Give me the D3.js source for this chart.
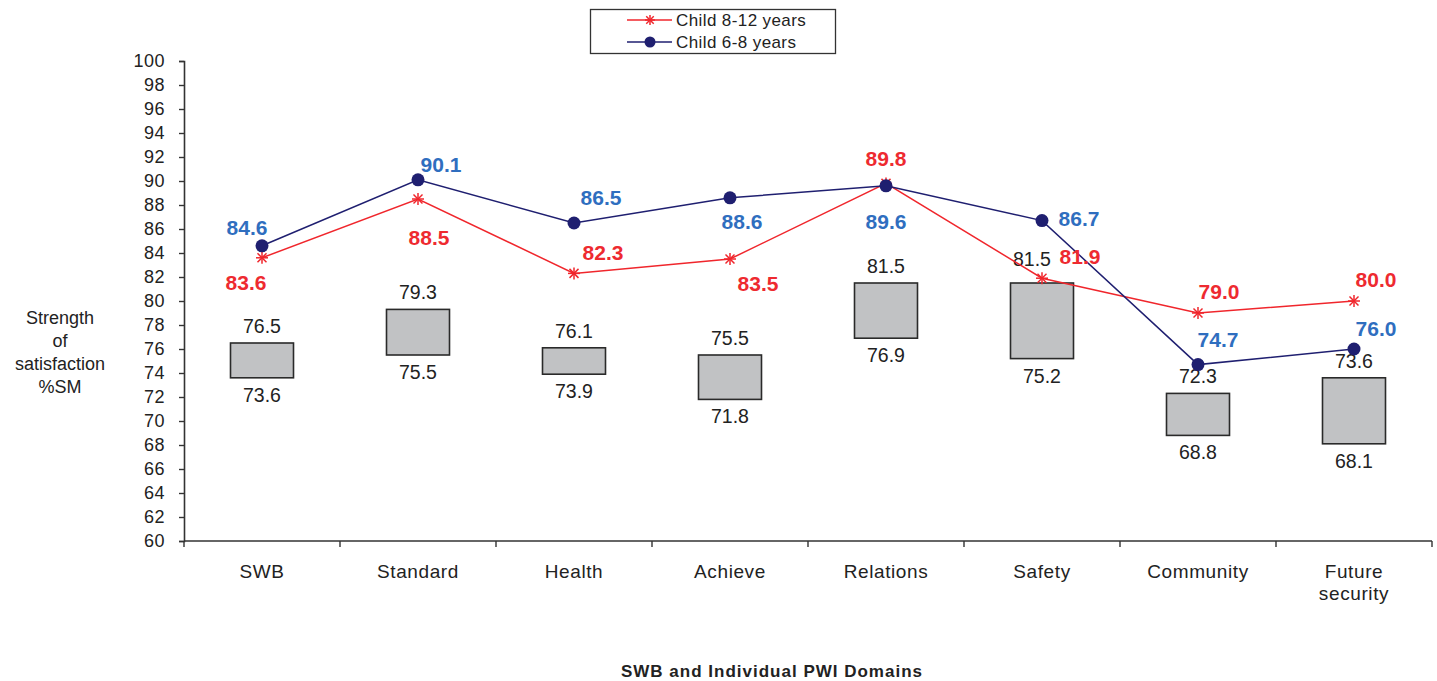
<!DOCTYPE html>
<html>
<head>
<meta charset="utf-8">
<script src="https://cdn.jsdelivr.net/npm/d3@7"></script>
<style>
  html, body { margin: 0; padding: 0; background: #fff; }
  svg { display: block; font-family: "Liberation Sans", Arial, sans-serif; }
</style>
</head>
<body>
<svg id="chart" width="1437" height="681"></svg>
<script>
// Domains along the x axis (multi-line names split with "\n")
const domains = ["SWB", "Standard", "Health", "Achieve", "Relations", "Safety", "Community", "Future\nsecurity"];

// Series values
const child8to12 = [83.6, 88.5, 82.3, 83.5, 89.8, 81.9, 79.0, 80.0];
const child6to8  = [84.6, 90.1, 86.5, 88.6, 89.6, 86.7, 74.7, 76.0];

// Normative range (lower / upper bound) per domain
const rangeLow  = [73.6, 75.5, 73.9, 71.8, 76.9, 75.2, 68.8, 68.1];
const rangeHigh = [76.5, 79.3, 76.1, 75.5, 81.5, 81.5, 72.3, 73.6];

const yTicks = d3.range(60, 101, 2);

// Value-label placement (offset of label centre from its point, px)
const place8to12 = [[-16, 25], [11, 38], [29, -21], [28, 24], [0, -25], [38, -22], [21, -22], [22, -22]];
const place6to8  = [[-15, -18], [23, -15], [27, -26], [12, 24], [0, 36], [37, -2], [20, -25], [22, -21]];
const rangeHighShift = [[0, 0], [0, 0], [0, 0], [0, 0], [0, 0], [-10, -7], [0, 0], [0, 0]];

const svg = d3.select("#chart");

const x = d3.scaleBand().domain(domains).range([184, 1432]).paddingInner(0).paddingOuter(0);
const y = d3.scaleLinear().domain([60, 100]).range([541, 61]);
const cx = d => x(d) + x.bandwidth() / 2;

const red = "#f0262c", redLabel = "#ee2a30";
const navy = "#1f1f70", blueLabel = "#2f6ebf";
const ink = "#222";

// Y axis
const yAxis = svg.append("g")
  .attr("transform", "translate(184,0)")
  .call(d3.axisLeft(y).tickValues(yTicks).tickSize(5).tickPadding(14).tickFormat(d3.format("d")));
yAxis.select(".domain").attr("stroke", "#333").attr("stroke-width", 1.6);
yAxis.selectAll(".tick line").attr("stroke", "#333").attr("stroke-width", 1.4);
yAxis.selectAll(".tick text").attr("font-size", 18).attr("fill", ink).attr("letter-spacing", 0.5)
  .attr("font-family", "Liberation Sans, Arial, sans-serif");

// X axis: ticks at band boundaries
const xg = svg.append("g").attr("transform", "translate(0,541)");
xg.append("line").attr("x1", 184).attr("x2", 1432).attr("y1", 0).attr("y2", 0)
  .attr("stroke", "#333").attr("stroke-width", 1.6);
const bounds = domains.map(d => x(d)).concat([x(domains[domains.length - 1]) + x.bandwidth()]);
xg.selectAll("line.tk").data(bounds).join("line").attr("class", "tk")
  .attr("x1", d => d).attr("x2", d => d).attr("y1", 0).attr("y2", 6)
  .attr("stroke", "#333").attr("stroke-width", 1.4);
const xl = xg.selectAll("text.cat").data(domains).join("text").attr("class", "cat")
  .attr("x", d => cx(d)).attr("y", 37)
  .attr("text-anchor", "middle").attr("font-size", 19).attr("letter-spacing", 0.6).attr("fill", ink);
xl.each(function(d) {
  const parts = d.split("\n");
  d3.select(this).selectAll("tspan").data(parts).join("tspan")
    .attr("x", cx(d)).attr("dy", (p, i) => i === 0 ? 0 : 22).text(p => p);
});

// Range boxes
const boxW = 63;
svg.append("g").selectAll("rect").data(domains).join("rect")
  .attr("x", d => cx(d) - boxW / 2)
  .attr("y", (d, i) => y(rangeHigh[i]))
  .attr("width", boxW)
  .attr("height", (d, i) => y(rangeLow[i]) - y(rangeHigh[i]))
  .attr("fill", "#c1c2c4").attr("stroke", "#2a2a2a").attr("stroke-width", 1.6);

const boxLab = svg.append("g").attr("font-size", 19.5).attr("fill", ink).attr("text-anchor", "middle");
boxLab.selectAll("text.hi").data(domains).join("text").attr("class", "hi")
  .attr("x", (d, i) => cx(d) + rangeHighShift[i][0])
  .attr("y", (d, i) => y(rangeHigh[i]) - 17 + rangeHighShift[i][1])
  .attr("dominant-baseline", "central")
  .text((d, i) => rangeHigh[i].toFixed(1));
boxLab.selectAll("text.lo").data(domains).join("text").attr("class", "lo")
  .attr("x", d => cx(d))
  .attr("y", (d, i) => y(rangeLow[i]) + 17)
  .attr("dominant-baseline", "central")
  .text((d, i) => rangeLow[i].toFixed(1));

// Lines
const line = d3.line().x((v, i) => cx(domains[i])).y(v => y(v));
svg.append("path").datum(child8to12).attr("d", line)
  .attr("fill", "none").attr("stroke", red).attr("stroke-width", 1.5);
svg.append("path").datum(child6to8).attr("d", line)
  .attr("fill", "none").attr("stroke", navy).attr("stroke-width", 1.5);

// Asterisk marker
function asterisk(g, px, py, r, color) {
  const a = g.append("g").attr("transform", `translate(${px},${py})`)
    .attr("stroke", color).attr("stroke-width", 1.5);
  a.append("line").attr("x1", -r).attr("x2", r).attr("y1", 0).attr("y2", 0);
  a.append("line").attr("x1", 0).attr("x2", 0).attr("y1", -r).attr("y2", r);
  a.append("line").attr("x1", -r * 0.75).attr("x2", r * 0.75).attr("y1", -r * 0.75).attr("y2", r * 0.75);
  a.append("line").attr("x1", -r * 0.75).attr("x2", r * 0.75).attr("y1", r * 0.75).attr("y2", -r * 0.75);
}
const mk = svg.append("g");
child8to12.forEach((v, i) => asterisk(mk, cx(domains[i]), y(v), 6, red));
svg.append("g").selectAll("circle").data(child6to8).join("circle")
  .attr("cx", (v, i) => cx(domains[i])).attr("cy", v => y(v)).attr("r", 6.5)
  .attr("fill", navy);

// Value labels
const vl = svg.append("g").attr("font-size", 21).attr("font-weight", "bold").attr("text-anchor", "middle");
vl.selectAll("text.r").data(child8to12).join("text").attr("class", "r")
  .attr("x", (v, i) => cx(domains[i]) + place8to12[i][0])
  .attr("y", (v, i) => y(v) + place8to12[i][1])
  .attr("dominant-baseline", "central").attr("fill", redLabel)
  .text(v => v.toFixed(1));
vl.selectAll("text.b").data(child6to8).join("text").attr("class", "b")
  .attr("x", (v, i) => cx(domains[i]) + place6to8[i][0])
  .attr("y", (v, i) => y(v) + place6to8[i][1])
  .attr("dominant-baseline", "central").attr("fill", blueLabel)
  .text(v => v.toFixed(1));

// Y axis title
const yt = svg.append("text").attr("text-anchor", "middle").attr("font-size", 18).attr("fill", ink);
["Strength", "of", "satisfaction", "%SM"].forEach((t, i) => {
  yt.append("tspan").attr("x", 60).attr("y", 324 + i * 23).text(t);
});

// X axis title
svg.append("text").attr("x", 772).attr("y", 677).attr("text-anchor", "middle")
  .attr("font-size", 17).attr("font-weight", "bold").attr("letter-spacing", 1).attr("fill", ink)
  .text("SWB and Individual PWI Domains");

// Legend
const lg = svg.append("g");
lg.append("rect").attr("x", 590.5).attr("y", 9.5).attr("width", 245).attr("height", 44)
  .attr("fill", "#fff").attr("stroke", "#333").attr("stroke-width", 1.3);
const legendItems = [
  { name: "Child 8-12 years", color: red, type: "star" },
  { name: "Child 6-8 years", color: navy, type: "dot" }
];
legendItems.forEach((it, i) => {
  const ly = 20 + i * 22;
  lg.append("line").attr("x1", 627).attr("x2", 672).attr("y1", ly).attr("y2", ly)
    .attr("stroke", it.color).attr("stroke-width", 1.5);
  if (it.type === "star") asterisk(lg, 650, ly, 5, it.color);
  else lg.append("circle").attr("cx", 650).attr("cy", ly).attr("r", 5.5).attr("fill", it.color);
  lg.append("text").attr("x", 676).attr("y", ly).attr("dominant-baseline", "central")
    .attr("font-size", 17).attr("letter-spacing", 0.4).attr("fill", ink).text(it.name);
});
</script>
</body>
</html>
